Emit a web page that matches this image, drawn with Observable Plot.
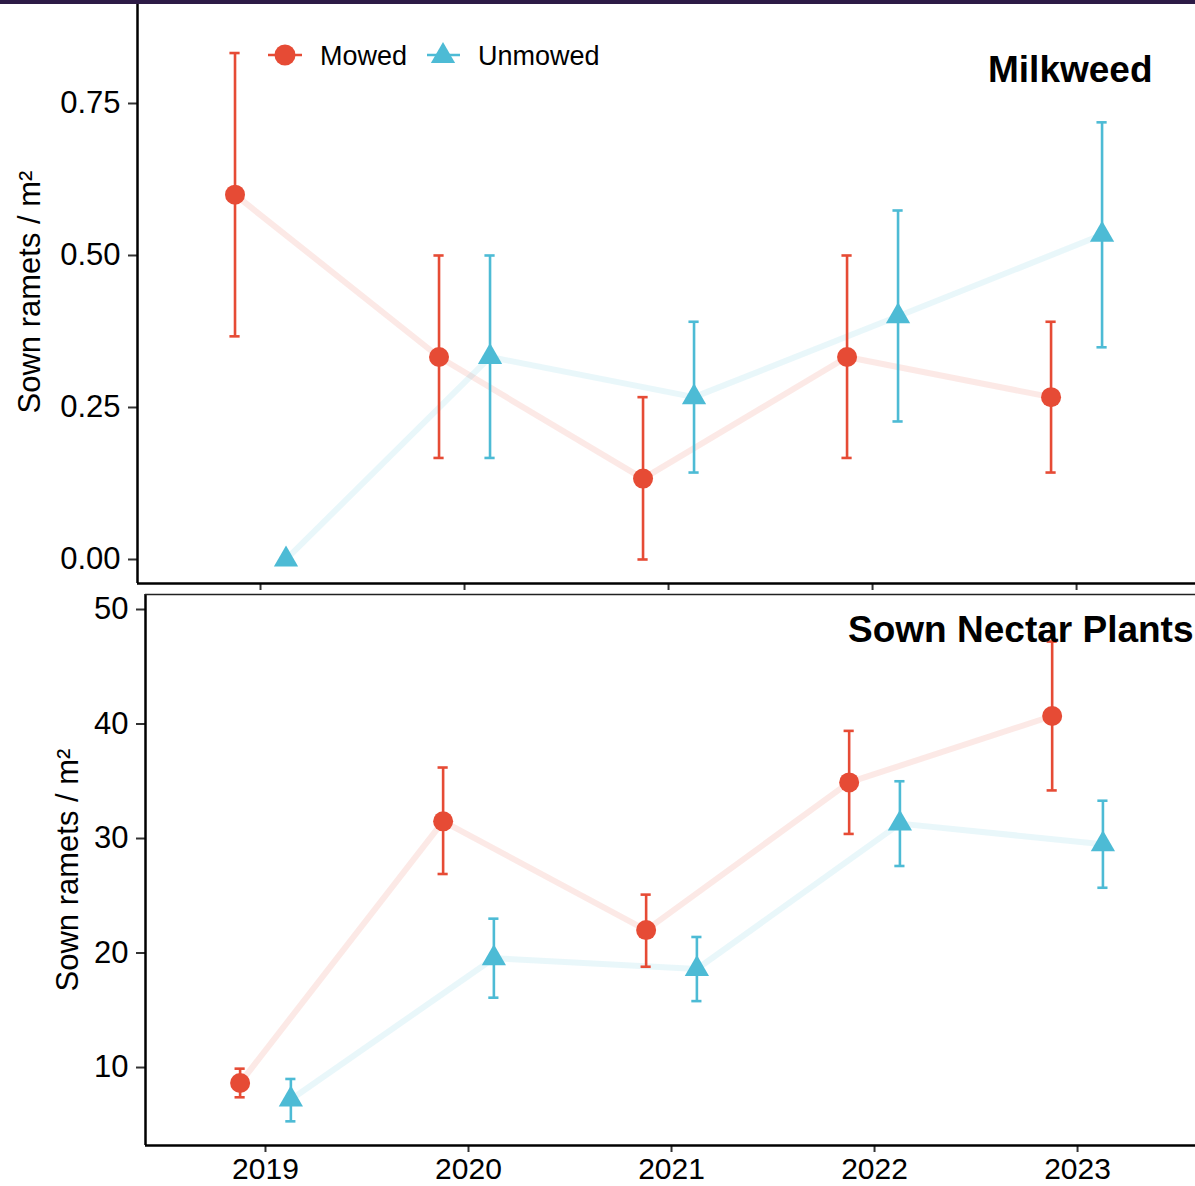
<!DOCTYPE html>
<html>
<head>
<meta charset="utf-8">
<script src="https://cdn.jsdelivr.net/npm/d3@7"></script>
<script src="https://cdn.jsdelivr.net/npm/@observablehq/plot@0.6"></script>
<style>
  html, body { margin: 0; padding: 0; background: #ffffff; }
  #wrap { position: relative; width: 1195px; height: 1186px; overflow: hidden; background: #ffffff;
          font-family: "Liberation Sans", Arial, Helvetica, sans-serif; }
  #top { position: absolute; left: 0; top: 0; }
  #bottom { position: absolute; left: 0; top: 594px; }
  #legend { position: absolute; left: 0; top: 0; }
  #band { position: absolute; left: 0; top: 0; width: 1195px; height: 4px; background: #2d1b46; }
</style>
</head>
<body>
<div id="wrap">
  <div id="bottom"></div>
  <div id="top"></div>
  <div id="legend"></div>
  <div id="band"></div>
</div>
<script>
// ---------- data ----------
const years = [2019, 2020, 2021, 2022, 2023];
const groups = ["Mowed", "Unmowed"];
const groupColors = ["#E64B35", "#4DBBD5"];
const groupSymbols = ["circle", "triangle"];
const yTitle = "Sown ramets / m\u00B2";
const titles = ["Milkweed", "Sown Nectar Plants"];

const milkweedMowedMean   = [0.600, 0.333, 0.133, 0.333, 0.267];
const milkweedMowedLow    = [0.367, 0.167, 0.000, 0.167, 0.143];
const milkweedMowedHigh   = [0.833, 0.500, 0.267, 0.500, 0.391];
const milkweedUnmowedMean = [0.000, 0.333, 0.267, 0.400, 0.534];
const milkweedUnmowedLow  = [null,  0.167, 0.143, 0.227, 0.349];
const milkweedUnmowedHigh = [null,  0.500, 0.391, 0.574, 0.719];

const nectarMowedMean   = [8.65, 31.5, 22.0, 34.9, 40.7];
const nectarMowedLow    = [7.4,  26.9, 18.8, 30.4, 34.2];
const nectarMowedHigh   = [9.9,  36.2, 25.1, 39.4, 47.2];
const nectarUnmowedMean = [7.2,  19.55, 18.6, 31.3, 29.5];
const nectarUnmowedLow  = [5.3,  16.1, 15.8, 27.6, 25.7];
const nectarUnmowedHigh = [9.0,  23.0, 21.4, 35.0, 33.3];

const milkweedTicks = [0, 0.25, 0.5, 0.75];
const nectarTicks = [10, 20, 30, 40, 50];

// ---------- helpers ----------
const dodge = 0.125;
const cap = 0.025;
const font = '"Liberation Sans", Arial, Helvetica, sans-serif';

function rows(mean, low, high, group, offset) {
  return years.map((yr, i) => ({ year: yr, xd: yr + offset, mean: mean[i], lo: low[i], hi: high[i], group }));
}

function panel(o) {
  const data = o.data;
  const withErr = data.filter(d => d.lo != null && d.hi != null);
  const marks = [
    Plot.line(data, { x: "xd", y: "mean", z: "group", stroke: "group", strokeOpacity: 0.12, strokeWidth: 6 }),
    Plot.ruleX(withErr, { x: "xd", y1: "lo", y2: "hi", stroke: "group", strokeWidth: 2.6 }),
    Plot.ruleY(withErr, { y: "hi", x1: d => d.xd - cap, x2: d => d.xd + cap, stroke: "group", strokeWidth: 2.6 }),
    Plot.ruleY(withErr, { y: "lo", x1: d => d.xd - cap, x2: d => d.xd + cap, stroke: "group", strokeWidth: 2.6 }),
    Plot.dot(data.filter(d => d.group === groups[0]), { x: "xd", y: "mean", fill: "group", symbol: "group", r: 10 }),
    Plot.dot(data.filter(d => d.group === groups[1]), { x: "xd", y: "mean", fill: "group", symbol: "group", r: 9 }),
    Plot.axisY({ ticks: o.yTicks, tickFormat: o.yFormat, tickSize: 9, tickPadding: 8, fontSize: 31,
                 label: null, stroke: "#333", strokeWidth: 2, fill: "black" }),
    Plot.axisX({ ticks: years, tickFormat: o.xLabels ? d3.format("d") : () => "", tickSize: 7, tickPadding: 5,
                 fontSize: 30, label: null, stroke: "#333", strokeWidth: 2, fill: "black" }),
    Plot.ruleX([o.xDomain[0]], { stroke: "black", strokeWidth: 2.5 }),
    Plot.ruleY([o.yDomain[0]], { stroke: "black", strokeWidth: 2.5 }),
    Plot.text([yTitle], { text: d => d, frameAnchor: "left", rotate: -90, dx: o.yTitleDx, fontSize: 31,
                          textAnchor: "middle", lineAnchor: "middle", fill: "black" }),
    Plot.text([o.title], { text: d => d, frameAnchor: "top-right", dx: o.titleDx, dy: o.titleDy, fontSize: 37,
                           fontWeight: "bold", textAnchor: "end", lineAnchor: "top", fill: "black" })
  ];
  if (o.topRule) marks.push(Plot.ruleY([o.yDomain[1]], { stroke: "#222", strokeWidth: 1.5 }));
  return Plot.plot({
    width: 1195, height: o.height,
    marginLeft: o.marginLeft, marginRight: 0, marginTop: 0, marginBottom: o.marginBottom,
    x: { domain: o.xDomain },
    y: { domain: o.yDomain },
    color: { domain: groups, range: groupColors },
    symbol: { domain: groups, range: groupSymbols },
    style: { fontFamily: font, fontSize: "30px", color: "black", background: "transparent", overflow: "visible" },
    marks
  });
}

// ---------- top panel: Milkweed ----------
const milkData = [
  ...rows(milkweedMowedMean, milkweedMowedLow, milkweedMowedHigh, groups[0], -dodge),
  ...rows(milkweedUnmowedMean, milkweedUnmowedLow, milkweedUnmowedHigh, groups[1], dodge)
];
document.getElementById("top").appendChild(panel({
  data: milkData, height: 595, marginLeft: 137, marginBottom: 12,
  xDomain: [2018.397, 2023.583], yDomain: [-0.0395, 0.9194],
  yTicks: milkweedTicks, yFormat: d3.format(".2f"), xLabels: false,
  yTitleDx: -107, title: titles[0], titleDx: -43, titleDy: 55, topRule: false
}));

// ---------- bottom panel: Sown Nectar Plants ----------
const nectarData = [
  ...rows(nectarMowedMean, nectarMowedLow, nectarMowedHigh, groups[0], -dodge),
  ...rows(nectarUnmowedMean, nectarUnmowedLow, nectarUnmowedHigh, groups[1], dodge)
];
document.getElementById("bottom").appendChild(panel({
  data: nectarData, height: 592, marginLeft: 145, marginBottom: 41,
  xDomain: [2018.409, 2023.581], yDomain: [3.19, 51.31],
  yTicks: nectarTicks, yFormat: d3.format("d"), xLabels: true,
  yTitleDx: -77, title: titles[1], titleDx: -2, titleDy: 21, topRule: true
}));

// ---------- legend ----------
const leg = d3.select("#legend").append("svg").attr("width", 660).attr("height", 100)
  .style("font-family", font);
const legItems = [
  { lx1: 268, lx2: 302, cx: 285, tx: 320, size: Math.PI * 10.5 * 10.5 },
  { lx1: 427, lx2: 460, cx: 443, tx: 478, size: 3 * Math.sqrt(3) * 49 }
];
groups.forEach((g, i) => {
  const it = legItems[i];
  leg.append("line").attr("x1", it.lx1).attr("x2", it.lx2).attr("y1", 55).attr("y2", 55)
    .attr("stroke", groupColors[i]).attr("stroke-width", 2.6);
  const sym = groupSymbols[i] === "circle" ? d3.symbolCircle : d3.symbolTriangle;
  leg.append("path").attr("d", d3.symbol(sym, it.size)())
    .attr("transform", `translate(${it.cx},${i === 0 ? 55 : 56})`).attr("fill", groupColors[i]);
  leg.append("text").attr("x", it.tx).attr("y", 65).attr("font-size", 27).attr("fill", "black").text(g);
});
</script>
</body>
</html>
